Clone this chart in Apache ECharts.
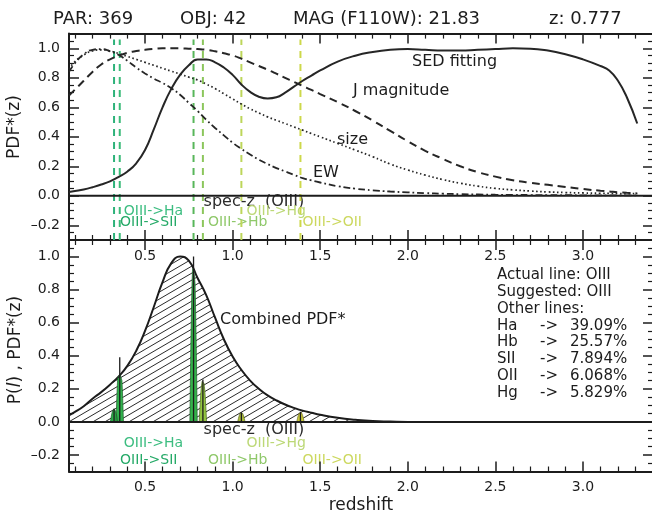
<!DOCTYPE html>
<html>
<head>
<meta charset="utf-8">
<script src="https://cdn.jsdelivr.net/npm/echarts@6/dist/echarts.min.js"></script>
<style>
  html, body { margin: 0; padding: 0; background: #ffffff; }
  #chart { width: 652px; height: 516px; }
</style>
</head>
<body>
<div id="chart"></div>
<script>
// ---- object header ----
const parId = 369;
const objId = 42;
const magF110W = 21.83;
const specZ = 0.777;
const actualLine = 'OIII';
const suggestedLine = 'OIII';

// ---- redshift grid shared by every PDF curve ----
const zGrid = [0.066, 0.1, 0.15, 0.2, 0.25, 0.3, 0.35, 0.4, 0.45, 0.5, 0.55, 0.6, 0.65, 0.7, 0.75,
  0.8, 0.85, 0.9, 0.95, 1.0, 1.05, 1.1, 1.15, 1.2, 1.25, 1.3, 1.35, 1.4, 1.45, 1.5, 1.6, 1.7, 1.8,
  1.9, 2.0, 2.1, 2.2, 2.3, 2.4, 2.5, 2.6, 2.7, 2.8, 2.9, 3.0, 3.1, 3.15, 3.2, 3.25, 3.31];

// single-indicator PDF*(z)
const sedFitting = [0.025, 0.032, 0.043, 0.058, 0.076, 0.098, 0.128, 0.165, 0.22, 0.31, 0.45, 0.60, 0.725, 0.82, 0.885,
  0.925, 0.925, 0.905, 0.87, 0.82, 0.755, 0.705, 0.672, 0.66, 0.668, 0.70, 0.74, 0.78, 0.815, 0.85, 0.91, 0.95, 0.975,
  0.99, 0.995, 0.99, 0.985, 0.985, 0.99, 0.995, 1.0, 0.998, 0.985, 0.96, 0.925, 0.88, 0.85, 0.78, 0.67, 0.49];
const jMagnitude = [0.68, 0.72, 0.78, 0.84, 0.89, 0.925, 0.95, 0.97, 0.982, 0.99, 0.996, 1.0, 1.0, 1.0, 0.998,
  0.995, 0.99, 0.98, 0.967, 0.952, 0.93, 0.905, 0.88, 0.855, 0.828, 0.80, 0.772, 0.745, 0.718, 0.69, 0.635, 0.575, 0.51,
  0.44, 0.37, 0.305, 0.25, 0.20, 0.16, 0.13, 0.105, 0.088, 0.074, 0.06, 0.046, 0.034, 0.029, 0.024, 0.02, 0.016];
const sizePdf = [0.86, 0.91, 0.955, 0.982, 0.99, 0.982, 0.965, 0.945, 0.925, 0.905, 0.885, 0.865, 0.845, 0.825, 0.805,
  0.785, 0.757, 0.727, 0.692, 0.657, 0.622, 0.59, 0.562, 0.535, 0.512, 0.49, 0.467, 0.445, 0.422, 0.40, 0.355, 0.31, 0.265,
  0.215, 0.175, 0.14, 0.11, 0.085, 0.065, 0.05, 0.04, 0.032, 0.026, 0.022, 0.019, 0.017, 0.016, 0.015, 0.015, 0.014];
const ewPdf = [0.84, 0.90, 0.96, 0.99, 0.995, 0.98, 0.955, 0.915, 0.87, 0.83, 0.795, 0.765, 0.73, 0.685, 0.63,
  0.575, 0.515, 0.46, 0.41, 0.36, 0.318, 0.28, 0.245, 0.215, 0.188, 0.165, 0.142, 0.12, 0.104, 0.09, 0.065, 0.048, 0.037,
  0.029, 0.023, 0.018, 0.014, 0.011, 0.009, 0.007, 0.006, 0.005, 0.004, 0.004, 0.003, 0.003, 0.003, 0.003, 0.003, 0.003];

// combined PDF*(z)
const combinedPdf = [0.04, 0.06, 0.095, 0.14, 0.18, 0.225, 0.275, 0.34, 0.43, 0.55, 0.695, 0.845, 0.96, 1.0, 0.975,
  0.87, 0.765, 0.63, 0.50, 0.395, 0.315, 0.25, 0.20, 0.16, 0.13, 0.105, 0.085, 0.068, 0.055, 0.043, 0.025, 0.013, 0.005,
  0.002, 0, 0, 0, 0, 0, 0, 0, 0, 0, 0, 0, 0, 0, 0, 0, 0];

// emission-line interpretations of the observed line and their probabilities P(l)
const lineNames = ['SII', 'Ha', 'OIII', 'Hb', 'Hg', 'OII'];
const lineZ = [0.3232, 0.3557, 0.777, 0.8304, 1.0501, 1.3873];
const lineProb = [0.07894, 0.3909, 1.0, 0.2557, 0.05829, 0.06068];

// ---- styling ----
const FONT = 'DejaVu Sans';
const INK = '#1c1c1c';
const CURVE = '#262626';
const dashColor = { SII: '#2db27a', Ha: '#3bbb78', OIII: '#58b65a', Hb: '#8cc65c', Hg: '#bdd65a', OII: '#cdd84a' };
const fillColor = { SII: '#2aae48', Ha: '#30b24c', OIII: '#33b24a', Hb: '#94c640', Hg: '#abbc3a', OII: '#c9c83a' };
const edgeColor = { SII: '#1e5e2a', Ha: '#1e5e2a', OIII: '#1e5e2a', Hb: '#4e6a22', Hg: '#5e6a20', OII: '#6e6e22' };
const labelColor = { SII: '#26aa68', Ha: '#3cbd80', Hb: '#8fc86a', Hg: '#bcd876', OII: '#ccd85e' };
const labelRow = { SII: 1, Ha: 0, Hb: 1, Hg: 0, OII: 1 };
const labelShift = { SII: 6, Ha: 4, Hb: 5, Hg: 5, OII: 2 };

const Z_MIN = 0.066, Z_MAX = 3.4, Y_MIN = -0.3, Y_MAX = 1.1;

const pairs = (xs, ys) => xs.map((x, i) => [x, ys[i]]);

function interp(xs, ys, x) {
  if (x <= xs[0]) return ys[0];
  for (let i = 1; i < xs.length; i++) {
    if (x <= xs[i]) {
      const t = (x - xs[i - 1]) / (xs[i] - xs[i - 1]);
      return ys[i - 1] + t * (ys[i] - ys[i - 1]);
    }
  }
  return ys[ys.length - 1];
}

// narrow profile of P(l) around each line redshift, clipped by the combined PDF
function spikeShape(zc, p) {
  const w = 0.021, n = 10, pts = [];
  for (let k = -n; k <= n; k++) {
    const t = k / n;
    const z = zc + w * t;
    const prof = p * (1 - t * t);
    pts.push([z, Math.min(prof, interp(zGrid, combinedPdf, z))]);
  }
  return pts;
}

// diagonal hatching tile for the combined PDF area
function hatchTile() {
  const w = 12, h = 7;
  const c = document.createElement('canvas');
  c.width = w; c.height = h;
  const g = c.getContext('2d');
  g.strokeStyle = '#2a2a2a';
  g.lineWidth = 1;
  g.beginPath();
  for (let k = -1; k <= 1; k++) {
    g.moveTo(-w, 2 * h + k * h);
    g.lineTo(2 * w, -h + k * h);
  }
  g.stroke();
  return c;
}

const onStep = (v, step) => Math.abs(v / step - Math.round(v / step)) < 1e-6;
const fmtNum = v => (v < 0 ? '\u2013' : '') + Math.abs(v).toFixed(1);

function xAxis(gridIndex, position, showLabels) {
  return {
    type: 'value', gridIndex, position, min: Z_MIN, max: Z_MAX, splitNumber: 7,
    axisLine: { show: true, onZero: false, lineStyle: { color: INK, width: 2 } },
    axisTick: { show: true, inside: true, length: 10, lineStyle: { color: INK, width: 1.5 } },
    minorTick: { show: true, splitNumber: 5, length: 5, lineStyle: { color: INK, width: 1.2 } },
    splitLine: { show: false }, minorSplitLine: { show: false },
    axisLabel: {
      show: showLabels, margin: 9, interval: 0, color: INK, fontFamily: FONT, fontSize: 14,
      formatter: v => (onStep(v, 0.5) ? fmtNum(v) : '')
    }
  };
}

function yAxis(gridIndex, position, showLabels) {
  return {
    type: 'value', gridIndex, position, min: Y_MIN, max: Y_MAX, splitNumber: 7,
    axisLine: { show: true, onZero: false, lineStyle: { color: INK, width: 2 } },
    axisTick: { show: true, inside: true, length: 10, lineStyle: { color: INK, width: 1.5 } },
    minorTick: { show: true, splitNumber: 4, length: 5, lineStyle: { color: INK, width: 1.2 } },
    splitLine: { show: false }, minorSplitLine: { show: false },
    axisLabel: {
      show: showLabels, margin: 9, interval: 0, color: INK, fontFamily: FONT, fontSize: 14,
      formatter: v => (onStep(v, 0.2) ? fmtNum(v) : '')
    }
  };
}

function plain(xi, yi, data, lineStyle, extra) {
  return Object.assign({
    type: 'line', xAxisIndex: xi, yAxisIndex: yi, data, symbol: 'none', silent: true,
    animation: false, lineStyle
  }, extra || {});
}

const SMOOTH = { smooth: 0.5 };
const series = [];

// upper panel: candidate-line redshifts
lineNames.forEach((name, i) => {
  series.push(plain(0, 0, [[lineZ[i], Y_MIN], [lineZ[i], 1.06]],
    { color: dashColor[name], width: 2, type: [7, 6] }));
});
series.push(plain(0, 0, [[Z_MIN, 0], [Z_MAX, 0]], { color: INK, width: 2 }));
series.push(plain(0, 0, pairs(zGrid, ewPdf), { color: CURVE, width: 1.8, type: [7, 3, 1.8, 3] }, SMOOTH));
series.push(plain(0, 0, pairs(zGrid, sizePdf), { color: CURVE, width: 1.7, type: [1.6, 2.6] }, SMOOTH));
series.push(plain(0, 0, pairs(zGrid, jMagnitude), { color: CURVE, width: 2, type: [8, 5] }, SMOOTH));
series.push(plain(0, 0, pairs(zGrid, sedFitting), { color: CURVE, width: 2 }, SMOOTH));

// lower panel: combined PDF with the P(l) spikes
series.push(plain(2, 2, pairs(zGrid, combinedPdf), { color: INK, width: 2 }, Object.assign({
  areaStyle: { color: { image: hatchTile(), repeat: 'repeat' }, opacity: 1, origin: 'auto' }
}, SMOOTH)));
lineNames.forEach((name, i) => {
  series.push(plain(2, 2, spikeShape(lineZ[i], lineProb[i]), { color: edgeColor[name], width: 0.7 },
    { areaStyle: { color: fillColor[name], opacity: 1, origin: 'auto' } }));
});
lineNames.forEach((name, i) => {
  series.push(plain(2, 2, [[lineZ[i], 0], [lineZ[i], lineProb[i]]], { color: INK, width: 1.3 }));
});
series.push(plain(2, 2, [[Z_MIN, 0], [Z_MAX, 0]], { color: INK, width: 2 }));

const chart = echarts.init(document.getElementById('chart'), null, { renderer: 'canvas' });

chart.setOption({
  animation: false,
  backgroundColor: '#ffffff',
  grid: [
    { left: 69, top: 33.6, width: 584, height: 206.4, containLabel: false, outerBoundsMode: 'none' },
    { left: 69, top: 240, width: 584, height: 231.5, containLabel: false, outerBoundsMode: 'none' }
  ],
  xAxis: [xAxis(0, 'bottom', true), xAxis(0, 'top', false), xAxis(1, 'bottom', true), xAxis(1, 'top', false)],
  yAxis: [yAxis(0, 'left', true), yAxis(0, 'right', false), yAxis(1, 'left', true), yAxis(1, 'right', false)],
  series
});

// ---- text annotations ----
const px = z => chart.convertToPixel({ xAxisIndex: 0 }, z);

function txt(x, y, text, size, fill, align, extra) {
  return Object.assign({
    type: 'text', x, y, silent: true,
    style: { text, font: size + 'px "' + FONT + '"', fill, textAlign: align || 'left', textVerticalAlign: 'middle' }
  }, extra || {});
}

const graphics = [];

// header line
graphics.push(txt(53, 19, 'PAR: ' + parId, 18, INK));
graphics.push(txt(180, 19, 'OBJ: ' + objId, 18, INK));
graphics.push(txt(293, 19, 'MAG (F110W): ' + magF110W.toFixed(2), 18, INK));
graphics.push(txt(549, 19, 'z: ' + specZ.toFixed(3), 18, INK));

// axis titles
graphics.push(txt(15, 127, 'PDF*(z)', 17, INK, 'center', { rotation: Math.PI / 2 }));
graphics.push({
  type: 'text', x: 16, y: 350, rotation: Math.PI / 2, silent: true,
  style: {
    text: '{n|P(}{i|l}{n|) , PDF*(z)}', textAlign: 'center', textVerticalAlign: 'middle',
    rich: {
      n: { fontFamily: FONT, fontSize: 17, fill: INK },
      i: { fontFamily: FONT, fontSize: 17, fontStyle: 'italic', fill: INK }
    }
  }
});
graphics.push(txt(361, 506, 'redshift', 17, INK, 'center'));

// curve labels
graphics.push(txt(412, 62, 'SED fitting', 16, INK));
graphics.push(txt(353, 91, 'J magnitude', 16, INK));
graphics.push(txt(337, 140, 'size', 16, INK));
graphics.push(txt(313, 173, 'EW', 16, INK));
graphics.push(txt(220, 320, 'Combined PDF*', 16, INK));

// spec-z and line-interpretation labels in both panels
const iO3 = lineNames.indexOf('OIII');
[[201.7, 211.7, 222.2], [429.5, 443, 460]].forEach(rows => {
  graphics.push(txt(px(lineZ[iO3]) + 10, rows[0], 'spec-z  (OIII)', 16, '#2b2b2b'));
  lineNames.forEach((name, i) => {
    if (name === 'OIII') return;
    graphics.push(txt(px(lineZ[i]) + labelShift[name], rows[1 + labelRow[name]],
      'OIII->' + name, 14, labelColor[name]));
  });
});

// summary box
const others = lineNames.map((n, i) => ({ n, p: lineProb[i] }))
  .filter(d => d.n !== actualLine)
  .sort((a, b) => b.p - a.p);
const boxY0 = 275, boxStep = 16.9;
graphics.push(txt(497, boxY0, 'Actual line: ' + actualLine, 15, INK));
graphics.push(txt(497, boxY0 + boxStep, 'Suggested: ' + suggestedLine, 15, INK));
graphics.push(txt(497, boxY0 + 2 * boxStep, 'Other lines:', 15, INK));
others.forEach((d, k) => {
  const y = boxY0 + (3 + k) * boxStep;
  graphics.push(txt(497, y, d.n, 15, INK));
  graphics.push(txt(540, y, '->', 15, INK));
  graphics.push(txt(570, y, (d.p * 100).toPrecision(4) + '%', 15, INK));
});

chart.setOption({ graphic: graphics });
</script>
</body>
</html>
